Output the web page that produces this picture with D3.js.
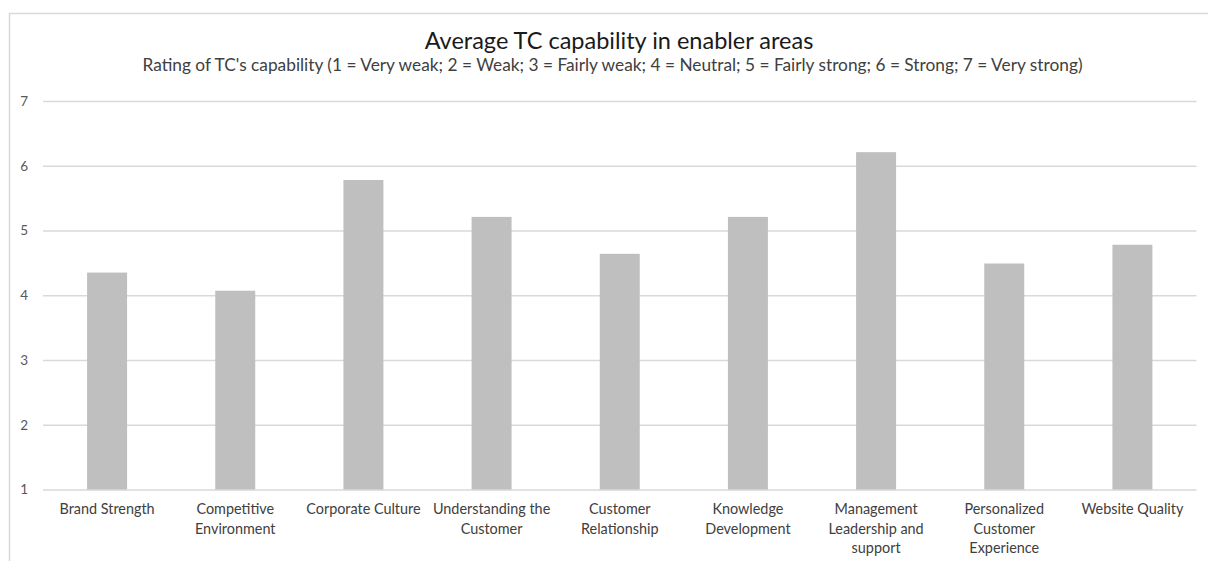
<!DOCTYPE html>
<html>
<head>
<meta charset="utf-8">
<script src="https://cdn.jsdelivr.net/npm/d3@7"></script>
<style>
  html, body { margin: 0; padding: 0; background: #fff; }
  svg { display: block; font-family: Lato, "Open Sans", sans-serif; }
</style>
</head>
<body>
<svg id="chart" width="1208" height="561"></svg>
<script>
// Enabler areas and their average capability rating (1–7 scale)
const categories = [
  "Brand Strength",
  "Competitive Environment",
  "Corporate Culture",
  "Understanding the Customer",
  "Customer Relationship",
  "Knowledge Development",
  "Management Leadership and support",
  "Personalized Customer Experience",
  "Website Quality"
];
const ratings = [4.35, 4.07, 5.78, 5.21, 4.64, 5.21, 6.21, 4.49, 4.78];
const yTicks = [1, 2, 3, 4, 5, 6, 7];

const titleText = "Average TC capability in enabler areas";
const subtitleText = "Rating of TC's capability (1 = Very weak; 2 = Weak; 3 = Fairly weak; 4 = Neutral; 5 = Fairly strong; 6 = Strong; 7 = Very strong)";

const svg = d3.select("#chart");
const W = 1208, H = 561;
const plot = { left: 43, right: 1196.5, top: 101, bottom: 489.5 };

// Outer chart frame (runs off the right and bottom edges)
svg.append("rect")
  .attr("x", 9.5).attr("y", 13.5)
  .attr("width", W + 20).attr("height", H + 20)
  .attr("fill", "#fff")
  .attr("stroke", "#d9d9d9")
  .attr("stroke-width", 1.5);

const x = d3.scaleBand()
  .domain(categories)
  .range([plot.left, plot.right])
  .paddingInner(0.688)
  .paddingOuter(0.344);

const y = d3.scaleLinear()
  .domain([1, 7])
  .range([plot.bottom, plot.top]);

// Horizontal gridlines + value labels
const yAxis = d3.axisLeft(y)
  .tickValues(yTicks)
  .tickFormat(d3.format("d"))
  .tickSize(-(plot.right - plot.left))
  .tickPadding(15);

const gy = svg.append("g")
  .attr("transform", `translate(${plot.left},0)`)
  .call(yAxis);
gy.select(".domain").remove();
gy.selectAll(".tick line")
  .attr("stroke", "#d9d9d9")
  .attr("stroke-width", 1.3);
gy.selectAll(".tick text")
  .attr("fill", "#595959")
  .attr("font-size", 13.5)
  .attr("font-family", "Lato, sans-serif");

// Bars
svg.append("g")
  .selectAll("rect")
  .data(categories.map((c, i) => ({ c, v: ratings[i] })))
  .join("rect")
  .attr("x", d => x(d.c))
  .attr("width", x.bandwidth())
  .attr("y", d => y(d.v))
  .attr("height", d => y(1) - y(d.v))
  .attr("fill", "#bfbfbf");

// Category labels along the bottom, wrapped to the band step
const gx = svg.append("g")
  .attr("transform", `translate(0,${plot.bottom})`)
  .call(d3.axisBottom(x).tickSize(0).tickPadding(0));
gx.select(".domain").remove();

const lineH = 19.5;
gx.selectAll(".tick text")
  .attr("fill", "#404040")
  .attr("font-size", 14.4)
  .attr("font-family", "Lato, sans-serif")
  .attr("dy", null)
  .attr("y", 0)
  .each(function (d) {
    const t = d3.select(this);
    const words = d.split(" ");
    const maxW = x.step() - 4;
    t.text(null);
    const lines = [];
    let cur = [];
    const probe = t.append("tspan");
    words.forEach(w => {
      const test = cur.concat(w).join(" ");
      probe.text(test);
      if (probe.node().getComputedTextLength() > maxW && cur.length) {
        lines.push(cur.join(" "));
        cur = [w];
      } else {
        cur.push(w);
      }
    });
    if (cur.length) lines.push(cur.join(" "));
    probe.remove();
    lines.forEach((ln, i) => {
      t.append("tspan")
        .attr("x", 0)
        .attr("y", 24.5 + i * lineH)
        .text(ln);
    });
  });

// Title and subtitle
svg.append("text")
  .attr("x", 619).attr("y", 49)
  .attr("text-anchor", "middle")
  .attr("fill", "#1a1a1a")
  .attr("font-size", 23.5)
  .text(titleText);

svg.append("text")
  .attr("x", 612.5).attr("y", 70.5)
  .attr("text-anchor", "middle")
  .attr("fill", "#404040")
  .attr("font-size", 17.3)
  .text(subtitleText);
</script>
</body>
</html>
